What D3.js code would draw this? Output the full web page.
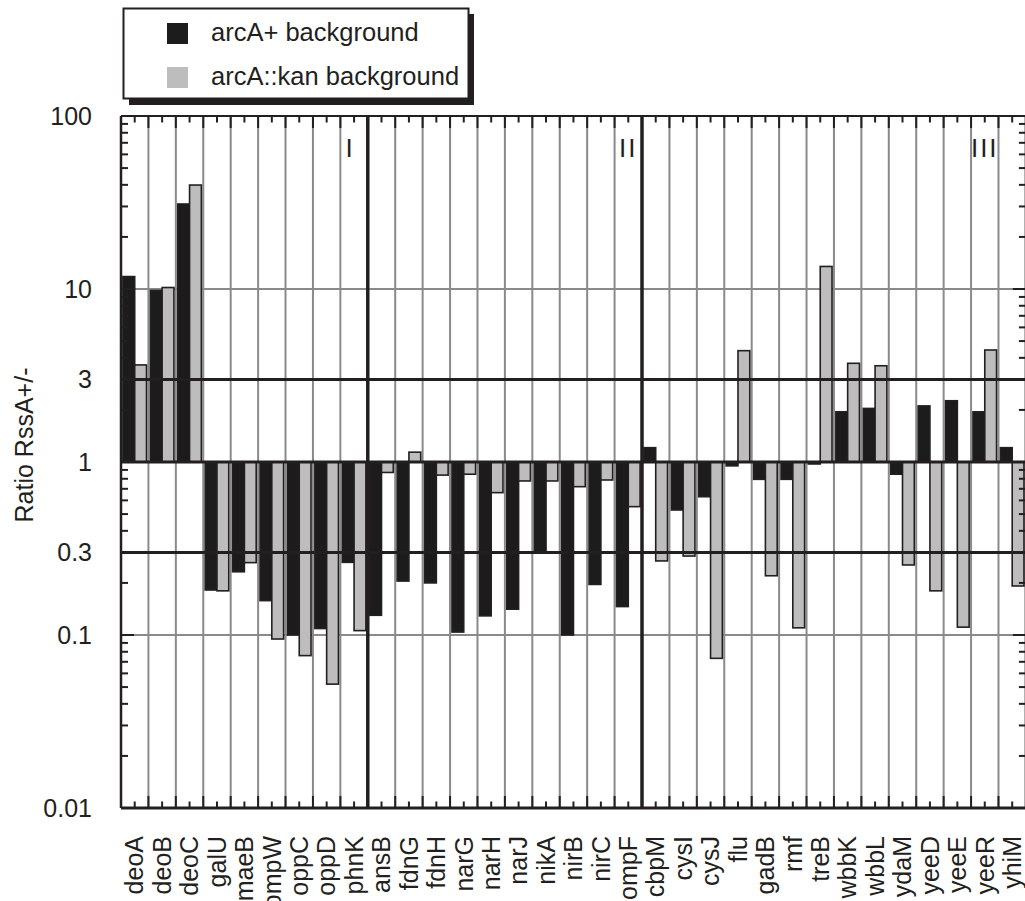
<!DOCTYPE html>
<html>
<head>
<meta charset="utf-8">
<script src="https://cdn.jsdelivr.net/npm/d3@7"></script>
<style>
  html, body { margin: 0; padding: 0; background: #fff; }
  svg { display: block; font-family: "Liberation Sans", Arial, Helvetica, sans-serif; }
</style>
</head>
<body>
<svg id="chart" width="1025" height="901"></svg>
<script>
// Genes on the x axis, grouped I / II / III
const genes = ["deoA","deoB","deoC","galU","maeB","ompW","oppC","oppD","phnK",
  "ansB","fdnG","fdnH","narG","narH","narJ","nikA","nirB","nirC","ompF",
  "cbpM","cysI","cysJ","flu","gadB","rmf","treB","wbbK","wbbL","ydaM","yeeD","yeeE","yeeR","yhiM"];

// RssA+/- expression ratio in the arcA+ background
const arcAplus = [11.8, 9.8, 31, 0.182, 0.232, 0.158, 0.100, 0.109, 0.263,
  0.130, 0.205, 0.200, 0.104, 0.129, 0.141, 0.30, 0.100, 0.196, 0.146,
  1.21, 0.528, 0.63, 0.95, 0.794, 0.794, 0.974, 1.95, 2.04, 0.85, 2.11, 2.26, 1.95, 1.21];

// RssA+/- expression ratio in the arcA::kan background
const arcAkan = [3.64, 10.2, 39.9, 0.180, 0.262, 0.0948, 0.076, 0.052, 0.106,
  0.87, 1.14, 0.84, 0.85, 0.665, 0.777, 0.777, 0.72, 0.787, 0.552,
  0.268, 0.286, 0.0733, 4.4, 0.22, 0.11, 13.5, 3.72, 3.6, 0.254, 0.18, 0.111, 4.44, 0.192];

// Labelled y ticks
const yTickLabels = [100, 10, 3, 1, 0.3, 0.1, 0.01];

// Group boundaries (first gene of each new group) and group numerals
const groupStarts = ["ansB", "cbpM"];
const groupNames = ["I", "II", "III"];
const groupNameAt = ["phnK", "ompF", "yeeR"];

const seriesNames = ["arcA+ background", "arcA::kan background"];
const seriesColors = ["#1c1c1c", "#bdbdbd"];

const svg = d3.select("#chart");
const ink = "#231f20";
const gridGray = "#8a8a8a";

const plot = { left: 121, right: 1025.9, top: 116, bottom: 808 };

const x = d3.scaleBand().domain(genes).range([plot.left, plot.right]).padding(0);
const y = d3.scaleLog().domain([0.01, 100]).range([plot.bottom, plot.top]);
const bw = x.bandwidth();

// Gray grid: category boundaries and the 10 / 0.1 lines
const grid = svg.append("g");
genes.slice(1).forEach(g => {
  grid.append("line")
    .attr("x1", x(g)).attr("x2", x(g))
    .attr("y1", plot.top).attr("y2", plot.bottom)
    .attr("stroke", gridGray).attr("stroke-width", 2);
});
[10, 0.1].forEach(v => {
  grid.append("line")
    .attr("x1", plot.left).attr("x2", plot.right)
    .attr("y1", y(v)).attr("y2", y(v))
    .attr("stroke", gridGray).attr("stroke-width", 2);
});

// Bars hang from the ratio = 1 baseline
const series = [arcAplus, arcAkan];
const barW = bw * 0.43;
const barOff = bw * 0.07;
const bars = svg.append("g");
series.forEach((vals, si) => {
  bars.selectAll(null)
    .data(genes.map((g, i) => ({ g, v: vals[i] })))
    .join("rect")
    .attr("x", d => x(d.g) + barOff + si * barW)
    .attr("width", barW)
    .attr("y", d => Math.min(y(d.v), y(1)))
    .attr("height", d => Math.abs(y(d.v) - y(1)))
    .attr("fill", seriesColors[si])
    .attr("stroke", ink)
    .attr("stroke-width", 1.6);
});

// Black reference lines at 3, 1 and 0.3
[3, 1, 0.3].forEach(v => {
  svg.append("line")
    .attr("x1", plot.left).attr("x2", plot.right)
    .attr("y1", y(v)).attr("y2", y(v))
    .attr("stroke", ink).attr("stroke-width", 3);
});

// Group separators
groupStarts.forEach(g => {
  svg.append("line")
    .attr("x1", x(g)).attr("x2", x(g))
    .attr("y1", plot.top).attr("y2", plot.bottom)
    .attr("stroke", ink).attr("stroke-width", 3.5);
});

// Frame
const frame = svg.append("g").attr("stroke", ink).attr("fill", "none");
frame.append("line").attr("x1", plot.left).attr("x2", plot.right).attr("y1", plot.top).attr("y2", plot.top).attr("stroke-width", 2.2);
frame.append("line").attr("x1", plot.left).attr("x2", plot.right).attr("y1", plot.bottom).attr("y2", plot.bottom).attr("stroke-width", 3);
frame.append("line").attr("x1", plot.left).attr("x2", plot.left).attr("y1", plot.top).attr("y2", plot.bottom).attr("stroke-width", 2.5);
frame.append("line").attr("x1", plot.right).attr("x2", plot.right).attr("y1", plot.top).attr("y2", plot.bottom).attr("stroke-width", 2.5);

// Inward ticks on top and bottom: long at boundaries, short at centres
const ticks = svg.append("g").attr("stroke", ink).attr("stroke-width", 2);
genes.forEach(g => {
  const xb = x(g), xc = x(g) + bw / 2;
  [[xb, 12], [xc, 6.5]].forEach(([xx, len]) => {
    ticks.append("line").attr("x1", xx).attr("x2", xx).attr("y1", plot.top).attr("y2", plot.top + len);
    ticks.append("line").attr("x1", xx).attr("x2", xx).attr("y1", plot.bottom).attr("y2", plot.bottom - len);
  });
});

// Inward log ticks on left and right
y.ticks().forEach(v => {
  const major = Math.abs(Math.log10(v) - Math.round(Math.log10(v))) < 1e-9;
  const len = major ? 13 : 7;
  ticks.append("line").attr("x1", plot.left).attr("x2", plot.left + len).attr("y1", y(v)).attr("y2", y(v));
  ticks.append("line").attr("x1", plot.right).attr("x2", plot.right - len).attr("y1", y(v)).attr("y2", y(v));
});

// Y tick labels
const yAxis = d3.axisLeft(y).tickValues(yTickLabels).tickFormat(d => String(d)).tickSize(0).tickPadding(29);
const ya = svg.append("g").attr("transform", `translate(${plot.left},0)`).call(yAxis);
ya.select(".domain").remove();
ya.selectAll("text").attr("font-size", 25).attr("fill", ink)
  .attr("font-family", "'Liberation Sans', Arial, Helvetica, sans-serif");

// Y axis title
svg.append("text")
  .attr("transform", "translate(33,445) rotate(-90)")
  .attr("text-anchor", "middle")
  .attr("font-size", 25).attr("fill", ink)
  .text("Ratio RssA+/-");

// Gene labels, rotated
svg.append("g").selectAll("text")
  .data(genes)
  .join("text")
  .attr("transform", g => `translate(${x(g) + bw / 2},836) rotate(-90)`)
  .attr("text-anchor", "end")
  .attr("dy", "0.35em")
  .attr("font-size", 25).attr("fill", ink)
  .text(g => g);

// Group numerals
groupNames.forEach((name, i) => {
  svg.append("text")
    .attr("x", x(groupNameAt[i]) + bw / 2 - (i === 0 ? 4 : 0))
    .attr("y", 157)
    .attr("text-anchor", "middle")
    .attr("font-size", 26)
    .attr("letter-spacing", 2)
    .attr("fill", ink)
    .text(name);
});

// Legend with drop shadow
const lg = svg.append("g");
lg.append("rect").attr("x", 129).attr("y", 14).attr("width", 345).attr("height", 91).attr("fill", ink);
lg.append("rect").attr("x", 123.5).attr("y", 8.5).attr("width", 345).attr("height", 90)
  .attr("fill", "#fff").attr("stroke", ink).attr("stroke-width", 2);
seriesNames.forEach((name, i) => {
  const yy = 23 + i * 44;
  lg.append("rect").attr("x", 167).attr("y", yy).attr("width", 21).attr("height", 21).attr("fill", seriesColors[i]);
  lg.append("text").attr("x", 211).attr("y", yy + 18).attr("font-size", 25.5).attr("fill", ink).text(name);
});
</script>
</body>
</html>
